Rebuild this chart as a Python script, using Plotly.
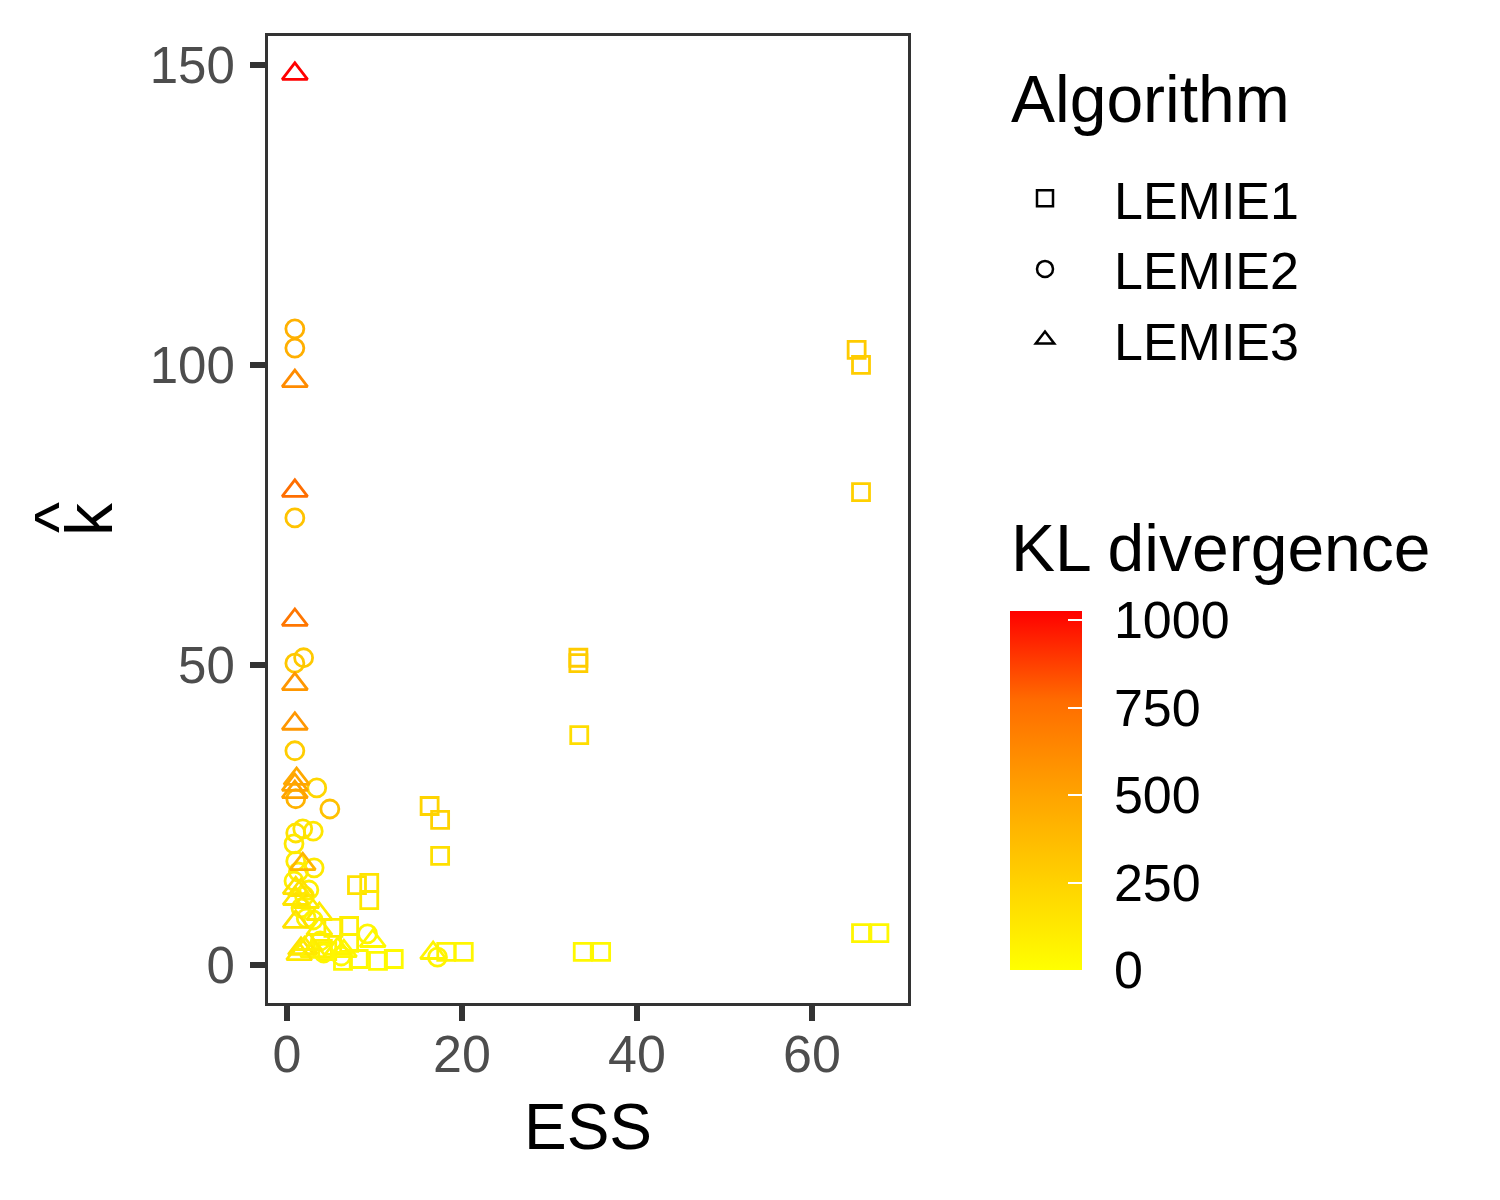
import plotly.graph_objects as go

# LEMIE1 (squares)
ess_lemie1 = [65.1, 65.6, 65.6, 33.3, 33.3, 33.4, 16.3, 17.5, 17.5, 18.2, 20.2, 33.8, 35.9, 65.6,
              67.7, 8.0, 9.4, 9.4, 5.3, 7.1, 7.1, 4.1, 6.4, 8.2, 10.4, 12.2, 4.6]
khat_lemie1 = [102.5, 100.0, 78.8, 51.2, 50.3, 38.3, 26.5, 24.2, 18.2, 2.2, 2.2, 2.2, 2.2, 5.3,
               5.3, 13.3, 13.7, 10.8, 6.2, 6.5, 3.7, 2.7, 0.7, 1.0, 0.7, 1.0, 2.3]
kl_lemie1 = [290, 280, 260, 290, 280, 190, 240, 250, 180, 60, 50, 40, 40, 50,
             40, 170, 150, 130, 110, 90, 70, 90, 40, 40, 30, 30, 80]

# LEMIE2 (circles)
ess_lemie2 = [0.9, 0.9, 0.9, 0.9, 1.9, 0.9, 3.4, 4.9, 1.0, 1.8, 3.0, 1.0, 0.8, 3.1,
              1.0, 1.3, 0.8, 2.0, 1.6, 2.2, 3.0, 3.8, 4.2, 6.2, 9.2, 17.2, 2.5]
khat_lemie2 = [106.0, 102.8, 74.5, 50.3, 51.2, 35.7, 29.5, 26.0, 27.7, 22.7, 22.3, 22.0, 20.2, 16.2,
               17.3, 15.5, 14.0, 11.5, 9.5, 7.8, 7.5, 4.0, 2.0, 1.5, 5.2, 1.3, 12.5]
kl_lemie2 = [430, 440, 330, 310, 300, 280, 230, 340, 420, 150, 140, 160, 130, 120,
             110, 100, 90, 80, 90, 70, 60, 60, 50, 40, 50, 60, 90]

# LEMIE3 (triangles)
ess_lemie3 = [0.9, 0.9, 0.9, 0.9, 0.9, 0.9, 1.1, 0.9, 0.9, 1.8, 1.0, 1.6, 1.0,
              2.2, 3.7, 1.0, 3.7, 1.6, 2.0, 3.0, 5.8, 6.5, 9.8, 16.7, 1.4, 2.5]
khat_lemie3 = [148.5, 97.3, 79.0, 57.5, 46.8, 40.2, 31.0, 30.0, 28.8, 16.8, 12.8, 12.5, 11.0,
               10.5, 8.5, 7.2, 6.0, 2.7, 2.8, 2.3, 2.7, 2.3, 4.0, 2.0, 1.8, 3.5]
kl_lemie3 = [1026, 620, 760, 720, 560, 560, 470, 490, 500, 400, 170, 160, 140,
             120, 110, 160, 90, 150, 120, 80, 60, 50, 40, 60, 130, 100]

x_ticks = [0, 20, 40, 60]
y_ticks = [0, 50, 100, 150]
kl_ticks = [0, 250, 500, 750, 1000]

# yellow -> red, interpolated in Lab like ggplot's gradient
kl_scale = [[0.0, "#FFFF00"], [0.25, "#FFD100"], [0.5, "#FFA100"],
            [0.75, "#FF6C00"], [1.0, "#FF0000"]]
kl_max = max(kl_lemie1 + kl_lemie2 + kl_lemie3)

FONT = "Liberation Sans, Arial, sans-serif"

series = [
    ("LEMIE1", "square-open", 17, ess_lemie1, khat_lemie1, kl_lemie1),
    ("LEMIE2", "circle-open", 18, ess_lemie2, khat_lemie2, kl_lemie2),
    ("LEMIE3", "triangle-up-open", 22, ess_lemie3, khat_lemie3, kl_lemie3),
]

fig = go.Figure()

for name, symbol, size, xs, ys, kl in series:
    fig.add_trace(go.Scatter(
        x=xs, y=ys, mode="markers", name=name, showlegend=False,
        marker=dict(symbol=symbol, size=size, color=kl, coloraxis="coloraxis",
                    line=dict(width=2.8))
    ))

# black keys for the shape legend
for name, symbol, size, xs, ys, kl in series:
    fig.add_trace(go.Scatter(
        x=[None], y=[None], mode="markers", name=name,
        marker=dict(symbol=symbol, size=size, color="black", line=dict(width=2.5))
    ))

# second copy of the colour bar, only for the white inner ticks
fig.add_trace(go.Scatter(
    x=[None], y=[None], mode="markers", showlegend=False,
    marker=dict(color=[0], coloraxis="coloraxis2")
))

bar = dict(
    thickness=72, thicknessmode="pixels", len=359, lenmode="pixels",
    x=(1009 - 267) / 640, xanchor="left", xpad=0,
    y=(1002 - 789.5) / 967, yanchor="middle", ypad=0,
    tickvals=kl_ticks, outlinewidth=0
)

fig.update_layout(
    width=1500, height=1200,
    margin=dict(l=260, r=600, t=28, b=205),
    paper_bgcolor="white", plot_bgcolor="white",
    font=dict(family=FONT, color="black"),
    showlegend=True,
    legend=dict(
        x=(975 - 267) / 640, xanchor="left", y=(1002 - 157) / 967, yanchor="top",
        font=dict(size=52), itemwidth=128, bgcolor="rgba(0,0,0,0)"
    ),
    coloraxis=dict(
        cmin=0, cmax=kl_max, colorscale=kl_scale,
        colorbar=dict(bar, ticks="outside", ticklen=22, tickcolor="white",
                      tickfont=dict(size=52, color="black"))
    ),
    coloraxis2=dict(
        cmin=0, cmax=kl_max, colorscale=kl_scale,
        colorbar=dict(bar, ticks="inside", ticklen=14, tickwidth=2, tickcolor="white",
                      showticklabels=False)
    ),
    annotations=[
        dict(text="Algorithm", xref="paper", yref="paper",
             x=(1008 - 267) / 640, xanchor="left", y=(1002 - 137) / 967, yanchor="bottom",
             showarrow=False, font=dict(size=66, color="black")),
        dict(text="KL divergence", xref="paper", yref="paper",
             x=(1008 - 267) / 640, xanchor="left", y=(1002 - 586) / 967, yanchor="bottom",
             showarrow=False, font=dict(size=66, color="black")),
        # hat over the k of the y title
        dict(text="^", xref="paper", yref="paper", textangle=-90,
             x=(57 - 267) / 640, xanchor="center", y=(1002 - 517) / 967, yanchor="middle",
             showarrow=False, font=dict(size=66, color="black")),
    ]
)

fig.update_xaxes(
    range=[-2.17, 70.97], tickvals=x_ticks, ticks="outside", ticklen=15, tickwidth=5.5,
    tickcolor="#333333", showline=True, linecolor="#333333", linewidth=3, mirror=True,
    showgrid=False, zeroline=False, tickfont=dict(size=52, color="#4D4D4D"),
    ticklabelstandoff=-11,
    title=dict(text="ESS", font=dict(size=64, color="black"), standoff=22)
)
fig.update_yaxes(
    range=[-6.33, 154.8], tickvals=y_ticks, ticks="outside", ticklen=15, tickwidth=5.5,
    tickcolor="#333333", showline=True, linecolor="#333333", linewidth=3, mirror=True,
    showgrid=False, zeroline=False, tickfont=dict(size=51, color="#4D4D4D"),
    ticklabelstandoff=5,
    title=dict(text="k", font=dict(size=66, color="black"), standoff=16)
)

fig.write_html("out.html")
